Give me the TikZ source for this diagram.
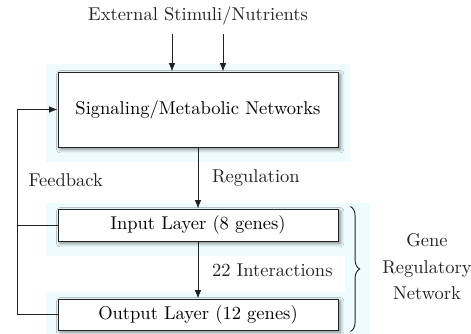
\documentclass[tikz,border=0pt]{standalone}
\usetikzlibrary{
  arrows.meta, positioning, calc,
  decorations.pathreplacing, shadows.blur, backgrounds
}
\usepackage{xcolor}
\definecolor{ink}   {HTML}{222222}
\definecolor{halo}  {HTML}{EFFCFF}
\definecolor{card}  {HTML}{FFFFFF}
\newcommand{\pxu}{0.54pt}
\tikzset{
  netbox/.style = {draw=ink, line width=0.5pt, fill=card,
                   minimum width=280*\pxu, inner sep=0pt,
                   blur shadow={shadow xshift=1.2pt, shadow yshift=-1.2pt,
                                shadow blur radius=2pt, shadow opacity=50}},
  arr/.style    = {-{Latex[length=4.5pt, width=3.5pt]}, line width=0.5pt, ink},
  wire/.style   = {line width=0.5pt, ink},
  labl/.style   = {font=\normalsize, text=ink},
  brc/.style    = {decorate, decoration={brace, amplitude=5pt}, line width=0.5pt, ink},
  glow/.style   = {fill=halo},
}

\begin{document}
\begin{tikzpicture}[x=\pxu, y=-\pxu]
  \useasboundingbox (0,0) rectangle (471,333);

  % stacked networks
  \node[labl] (ext) at (198,16) {External Stimuli/Nutrients};
  \node[netbox, minimum height=75*\pxu] (sig) at (198,109.5)
    {Signaling/Metabolic Networks};
  \node[netbox, minimum height=32*\pxu] (inl) at (198,225)
    {Input Layer (8 genes)};
  \node[netbox, minimum height=31*\pxu] (outl) at (198,314.5)
    {Output Layer (12 genes)};

  % faint halos behind the boxes
  \begin{scope}[on background layer]
    \fill[glow] ($(sig.north west)+(-12,-8)$) rectangle ($(sig.south east)+(12,15)$);
    \fill[glow] ($(inl.north west)+(-12,-6)$) rectangle ($(inl.south east)+(7,15)$);
    \fill[glow] ($(outl.north west)+(-12,-7)$) rectangle ($(outl.south east)+(7,5)$);
    \fill[glow] ($(inl.north east)+(7,-6)$) rectangle ($(outl.south east)+(32,5)$);
  \end{scope}

  % inputs from outside
  \coordinate (st1) at (172,34);
  \coordinate (st2) at (223,34);
  \draw[arr] (st1) -- (st1 |- sig.north);
  \draw[arr] (st2) -- (st2 |- sig.north);

  % downward regulation
  \draw[arr] (sig) -- node[labl, right=4pt] (reg) {Regulation} (inl);
  \draw[arr] (inl) -- node[labl, right=4pt] (ints) {22 Interactions} (outl);

  % feedback loop
  \draw[arr] (outl.west) -- ++(-40,0) coordinate (fbc) |- (sig.west);
  \draw[wire] (inl.west) -- (inl.west -| fbc);
  \node[labl, right] (fbl) at (22,180) {Feedback};

  % gene regulatory network brace
  \draw[brc] ($(inl.north east)+(12,-2)$) coordinate (bt)
          -- ($(outl.south east)+(12,1)$) coordinate (bb);
  \node[labl, align=center] (grn) at (427,267)
    {Gene\\[2.3pt]Regulatory\\[2.3pt]Network};

\end{tikzpicture}
\end{document}
